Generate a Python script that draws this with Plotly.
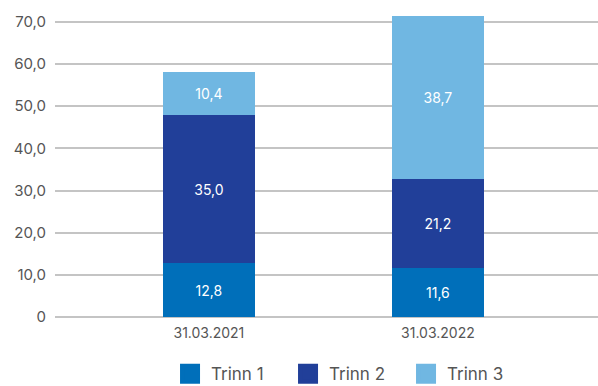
import plotly.graph_objects as go

categories = ["31.03.2021", "31.03.2022"]
series_names = ["Trinn 1", "Trinn 2", "Trinn 3"]
trinn1 = [12.8, 11.6]
trinn2 = [35.0, 21.2]
trinn3 = [10.4, 38.7]
colors = ["#006FBA", "#213F99", "#70B7E2"]
tick_vals = [0, 10, 20, 30, 40, 50, 60, 70]
tick_text = ["0", "10,0", "20,0", "30,0", "40,0", "50,0", "60,0", "70,0"]

FONT = "Inter"

def fmt(v):
    return f"{v:.1f}".replace(".", ",")

fig = go.Figure()
for name, vals, col in zip(series_names, [trinn1, trinn2, trinn3], colors):
    fig.add_trace(go.Bar(
        x=categories, y=vals, name=name,
        marker=dict(color=col, line=dict(width=0)),
        text=[fmt(v) for v in vals],
        textposition="inside", insidetextanchor="middle",
        textfont=dict(color="white", size=14, family=FONT),
        width=0.4, showlegend=False, hoverinfo="skip",
    ))
    fig.add_trace(go.Scatter(
        x=[None], y=[None], mode="markers", name=name,
        marker=dict(symbol="square", size=16, color=col, line=dict(color=col, width=4)),
    ))

fig.update_layout(
    barmode="stack",
    width=598, height=386,
    margin=dict(l=55, r=0, t=5, b=69, autoexpand=False),
    plot_bgcolor="white", paper_bgcolor="white",
    font=dict(family=FONT, size=15, color="#555555"),
    legend=dict(orientation="h", x=0.21, xanchor="left", y=-0.183, yanchor="middle",
                font=dict(size=17, color="#555555"), itemsizing="trace",
                traceorder="normal", itemwidth=32, entrywidth=71),
    xaxis=dict(range=[-0.672, 1.699], showgrid=False, ticks="", showline=False,
               ticklabelstandoff=6,
               tickfont=dict(size=14, color="#555555")),
    yaxis=dict(range=[0, 74], tickvals=tick_vals, ticktext=tick_text,
               showgrid=True, gridcolor="#C4C4C4", gridwidth=1.5,
               zeroline=True, zerolinecolor="#C4C4C4", zerolinewidth=1.5,
               ticks="", ticklen=0, ticklabelstandoff=8,
               tickfont=dict(size=15, color="#555555")),
)
fig.write_html("out.html")
